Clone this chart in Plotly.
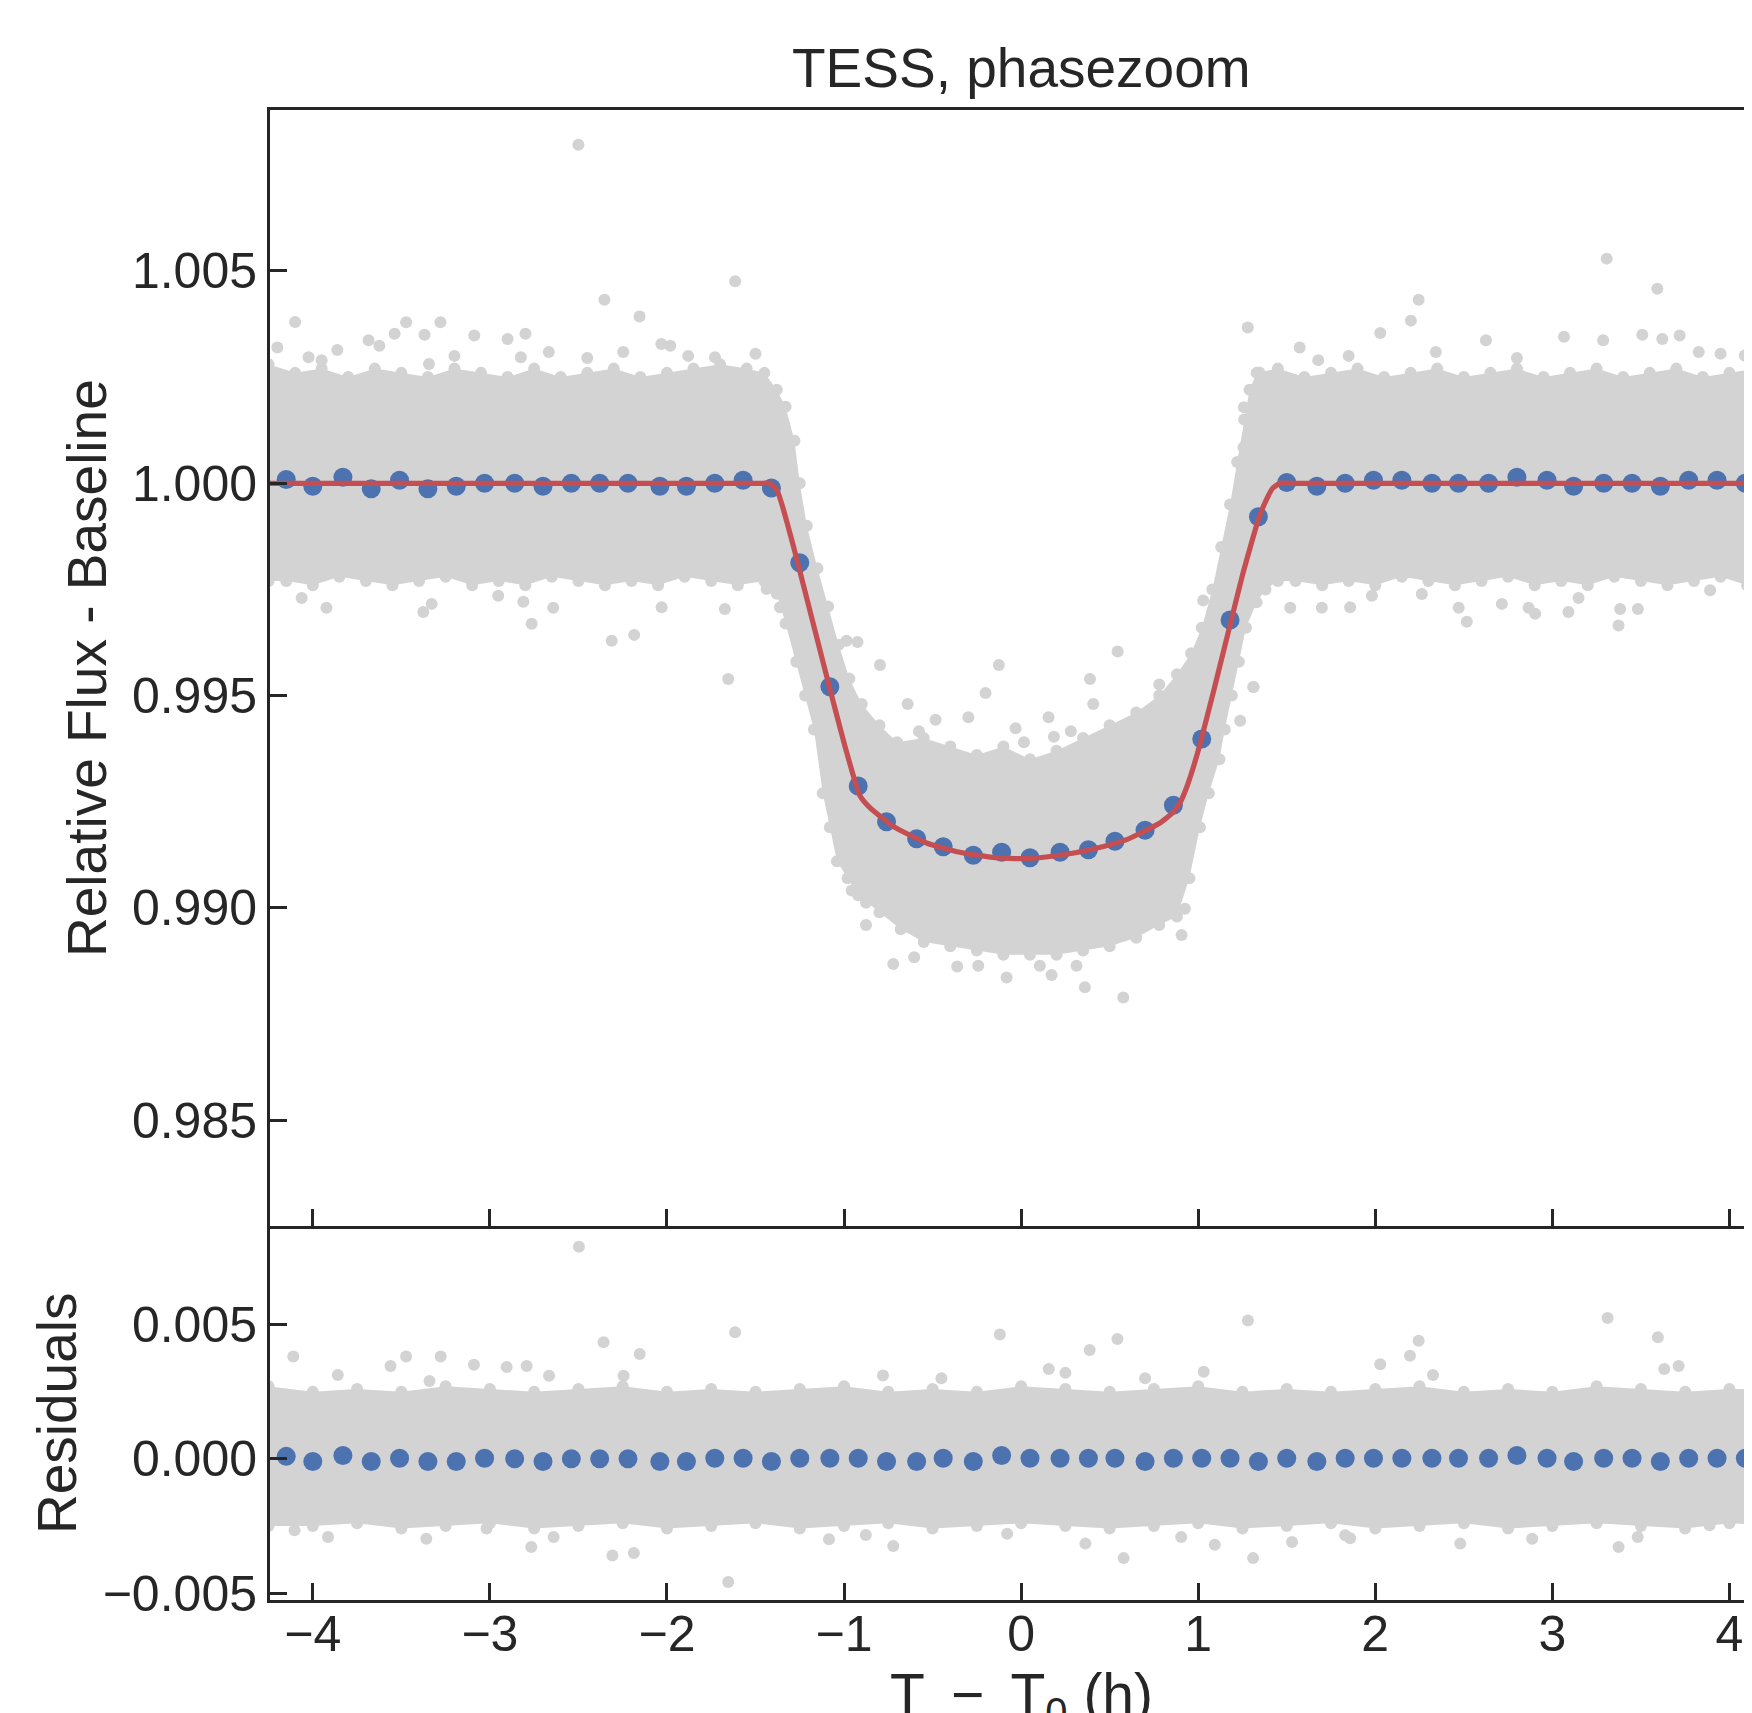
import plotly.graph_objects as go

# ---------------- data ----------------
# binned points (time from mid-transit, hours)
bin_t = [-4.15, -4.00, -3.83, -3.67, -3.51, -3.35, -3.19, -3.03, -2.86, -2.70,
         -2.54, -2.38, -2.22, -2.04, -1.89, -1.73, -1.57, -1.41, -1.25, -1.08,
         -0.92, -0.76, -0.59, -0.44, -0.27, -0.11, 0.05, 0.22, 0.38, 0.53,
         0.70, 0.86, 1.02, 1.18, 1.34, 1.50, 1.67, 1.83, 1.99, 2.15,
         2.32, 2.47, 2.64, 2.80, 2.97, 3.12, 3.29, 3.45, 3.61, 3.77,
         3.93, 4.09]
bin_flux = [1.00009, 0.99993, 1.00014, 0.99987, 1.00007, 0.99987, 0.99993, 1.00000, 1.00000, 0.99993,
            1.00000, 1.00000, 1.00000, 0.99993, 0.99993, 1.00000, 1.00007, 0.99989, 0.99813, 0.99521,
            0.99287, 0.99203, 0.99163, 0.99144, 0.99124, 0.99131, 0.99118, 0.99131, 0.99137, 0.99157,
            0.99183, 0.99242, 0.99398, 0.99678, 0.99921, 1.00002, 0.99993, 1.00000, 1.00007, 1.00007,
            1.00000, 1.00000, 1.00000, 1.00014, 1.00007, 0.99993, 1.00000, 1.00000, 0.99993, 1.00007,
            1.00007, 1.00000]
bin_resid = [0.00009, -0.00010, 0.00012, -0.00010, 0.00002, -0.00010, -0.00010, 0.00002, 0.00000, -0.00010,
             0.00000, 0.00000, 0.00000, -0.00010, -0.00010, 0.00002, 0.00002, -0.00010, 0.00002, 0.00002,
             0.00002, -0.00010, -0.00010, 0.00002, -0.00010, 0.00012, 0.00002, 0.00002, 0.00002, 0.00002,
             -0.00010, 0.00002, 0.00002, 0.00002, -0.00010, 0.00002, -0.00010, 0.00002, 0.00002, 0.00002,
             0.00002, 0.00002, 0.00002, 0.00012, 0.00002, -0.00010, 0.00002, 0.00002, -0.00010, 0.00002,
             0.00002, 0.00002]

# transit model curve
model_t = [-4.25, -3.0, -2.0, -1.46, -1.42, -1.38, -1.34, -1.30, -1.26, -1.165, -1.07, -0.995, -0.95, -0.91,
           -0.854, -0.722, -0.534, -0.346, -0.158, 0.031, 0.219, 0.407, 0.596, 0.784,
           0.86, 0.90, 0.934, 0.991, 1.085, 1.179, 1.254, 1.30, 1.34, 1.38, 1.42, 1.46, 1.52, 2.0, 3.0, 4.25]
model_flux = [1.0, 1.0, 1.0, 1.0, 1.0, 0.99985, 0.99935, 0.99874, 0.99810, 0.99655, 0.99500, 0.99381, 0.99315, 0.99264,
              0.99236, 0.99192, 0.99153, 0.99131, 0.99119, 0.99116, 0.99124, 0.99139, 0.99161, 0.99200,
              0.99226, 0.99250, 0.99283, 0.99357, 0.99507, 0.99665, 0.99790, 0.99858, 0.99915, 0.99957, 0.99988, 1.0, 1.0, 1.0, 1.0, 1.0]

# outline of the dense cloud of unbinned points (upper edge left->right, lower edge right->left)
cloud_up_t = [-4.25, -4.10, -3.95, -3.80, -3.65, -3.50, -3.35, -3.20, -3.05, -2.90,
              -2.75, -2.60, -2.45, -2.30, -2.15, -2.00, -1.85, -1.70, -1.55, -1.45,
              -1.38, -1.33, -1.28, -1.25, -1.21, -1.15, -1.09, -1.03, -0.97, -0.90,
              -0.80, -0.70, -0.55, -0.40, -0.25, -0.10, 0.05, 0.20, 0.35, 0.50,
              0.65, 0.78, 0.88, 0.96, 1.02, 1.08, 1.13, 1.18, 1.22, 1.26,
              1.29, 1.33, 1.45, 1.60, 1.75, 1.90, 2.05, 2.20, 2.35, 2.50,
              2.65, 2.80, 2.95, 3.10, 3.25, 3.40, 3.55, 3.70, 3.85, 4.00,
              4.15, 4.25]
cloud_up_f = [1.0028, 1.0026, 1.0027, 1.0025, 1.0027, 1.0026, 1.0025, 1.0027, 1.0026, 1.0025,
              1.0027, 1.0025, 1.0026, 1.0027, 1.0025, 1.0026, 1.0027, 1.0028, 1.0027, 1.0026,
              1.0022, 1.0018, 1.0010, 1.0000, 0.9990, 0.9980, 0.9971, 0.9962, 0.9954, 0.9948,
              0.9943, 0.9939, 0.9940, 0.9938, 0.9936, 0.9938, 0.9935, 0.9937, 0.9940, 0.9943,
              0.9946, 0.9950, 0.9955, 0.9960, 0.9966, 0.9975, 0.9985, 0.9995, 1.0005, 1.0015,
              1.0022, 1.0026, 1.0027, 1.0025, 1.0026, 1.0027, 1.0025, 1.0026, 1.0027, 1.0025,
              1.0026, 1.0027, 1.0025, 1.0026, 1.0027, 1.0025, 1.0026, 1.0027, 1.0025, 1.0026,
              1.0027, 1.0026]
cloud_lo_t = [4.25, 4.10, 3.95, 3.80, 3.65, 3.50, 3.35, 3.20, 3.05, 2.90,
              2.75, 2.60, 2.45, 2.30, 2.15, 2.00, 1.85, 1.70, 1.55, 1.45,
              1.38, 1.33, 1.27, 1.23, 1.19, 1.15, 1.12, 1.06, 1.01, 0.95,
              0.88, 0.78, 0.65, 0.50, 0.35, 0.20, 0.05, -0.10, -0.25, -0.40,
              -0.55, -0.68, -0.80, -0.92, -0.98, -1.04, -1.08, -1.12, -1.17, -1.22,
              -1.27, -1.33, -1.38, -1.45, -1.60, -1.75, -1.90, -2.05, -2.20, -2.35,
              -2.50, -2.65, -2.80, -2.95, -3.10, -3.25, -3.40, -3.55, -3.70, -3.85,
              -4.00, -4.15, -4.25]
cloud_lo_f = [0.9977, 0.9976, 0.9978, 0.9977, 0.9976, 0.9977, 0.9978, 0.9976, 0.9977, 0.9976,
              0.9978, 0.9977, 0.9976, 0.9977, 0.9978, 0.9976, 0.9977, 0.9976, 0.9977, 0.9977,
              0.9975, 0.9972, 0.9966, 0.9958, 0.9950, 0.9942, 0.9935, 0.9927, 0.9919, 0.9907,
              0.9898, 0.9896, 0.9893, 0.9891, 0.9890, 0.9889, 0.9889, 0.9889, 0.9890, 0.9891,
              0.9892, 0.9895, 0.9899, 0.9903, 0.9907, 0.9911, 0.9919, 0.9927, 0.9942, 0.9950,
              0.9958, 0.9967, 0.9974, 0.9977, 0.9976, 0.9977, 0.9978, 0.9976, 0.9977, 0.9976,
              0.9977, 0.9978, 0.9976, 0.9977, 0.9976, 0.9978, 0.9977, 0.9976, 0.9977, 0.9978,
              0.9976, 0.9977, 0.9977]

# individually visible unbinned points outside the dense cloud (flux panel)
flux_pts_t = [-4.10, -3.862, -3.538, -3.473, -3.279, -3.088, -2.900, -2.799, -2.667, -2.500,
              -2.353, -2.155, -2.032, -2.247, -3.344, -4.024, -3.624, -2.825, -1.615, -3.369,
              -3.685, -1.981, -1.729, -4.20, -3.95, -3.20, -2.45, -1.88, -1.50,
              1.280, 2.245, 2.201, 2.028, 2.342, 3.307, 3.593, 3.621, 3.719, 3.827,
              4.087, 1.345, 1.573, 1.258, 3.066, 2.625, 3.287, 3.508, 1.678, 1.85, 2.80, 3.95,
              -4.063, -3.923, -3.376, -3.329, -2.953, -2.811, -2.764, -2.642, -2.312, -2.185,
              -2.030, -1.673, -1.654,
              1.520, 1.698, 1.858, 1.981, 2.263, 2.471, 2.517, 2.715, 2.866, 2.903,
              3.091, 3.148, 3.374, 3.383, 3.483, 3.891, 1.313, 1.237, 1.256,
              -0.797, -0.641, -0.577, -0.483, -0.298, -0.201, -0.126, -0.031, 0.016, 0.155,
              0.185, 0.281, 0.389, 0.407, 0.545, 0.780, 0.878, 1.311, 1.028, -0.924,
              -0.986, -1.362, -1.437,
              -0.722, -0.876, -0.876, -0.957, -0.604, -0.361, -0.082, 0.172, 0.360, 0.577,
              0.906, 0.925, -0.242, 0.106, 0.313, -1.061]
flux_pts_f = [1.00380, 1.00314, 1.00352, 1.00379, 1.00379, 1.00348, 1.00340, 1.00352, 1.00309, 1.00797,
              1.00432, 1.00393, 1.00328, 1.00309, 1.00281, 1.00297, 1.00324, 1.00297, 1.00476, 1.00350,
              1.00337, 1.00324, 1.00297, 1.00320, 1.00290, 1.00300, 1.00295, 1.00300, 1.00305,
              1.00367, 1.00432, 1.00383, 1.00354, 1.00309, 1.00529, 1.00458, 1.00340, 1.00348, 1.00309,
              1.00301, 1.00261, 1.00320, 1.00179, 1.00345, 1.00337, 1.00337, 1.00350, 1.00290, 1.00300, 1.00295, 1.00305,
              0.99730, 0.99707, 0.99697, 0.99716, 0.99735, 0.99721, 0.99669, 0.99707, 0.99629, 0.99643,
              0.99708, 0.99704, 0.99539,
              0.99707, 0.99707, 0.99708, 0.99735, 0.99739, 0.99707, 0.99674, 0.99716, 0.99707, 0.99693,
              0.99697, 0.99730, 0.99665, 0.99704, 0.99704, 0.99748, 0.99520, 0.99441, 1.00084,
              0.99572, 0.99480, 0.99416, 0.99443, 0.99449, 0.99506, 0.99572, 0.99423, 0.99390, 0.99449,
              0.99403, 0.99416, 0.99539, 0.99480, 0.99604, 0.99526, 0.99500, 0.99520, 0.99724, 0.99626,
              0.99629, 0.99708, 0.99751,
              0.98868, 0.98960, 0.99012, 0.99041, 0.98884, 0.98862, 0.98836, 0.98842, 0.98813, 0.98789,
              0.98936, 0.98998, 0.98864, 0.98864, 0.98864, 0.99190]

# residual panel: dense band outline and visible outliers
res_up_t = [-4.25, -4.00, -3.75, -3.50, -3.25, -3.00, -2.75, -2.50, -2.25, -2.00,
            -1.75, -1.50, -1.25, -1.00, -0.75, -0.50, -0.25, 0.00, 0.25, 0.50,
            0.75, 1.00, 1.25, 1.50, 1.75, 2.00, 2.25, 2.50, 2.75, 3.00,
            3.25, 3.50, 3.75, 4.00, 4.25]
res_up = [0.0027, 0.0025, 0.0026, 0.0025, 0.0027, 0.0026, 0.0025, 0.0026, 0.0027, 0.0025,
          0.0026, 0.0025, 0.0026, 0.0027, 0.0025, 0.0026, 0.0025, 0.0027, 0.0026, 0.0025,
          0.0026, 0.0027, 0.0025, 0.0026, 0.0025, 0.0026, 0.0027, 0.0025, 0.0026, 0.0025,
          0.0027, 0.0026, 0.0025, 0.0026, 0.0026]
res_lo_t = [4.25, 4.00, 3.75, 3.50, 3.25, 3.00, 2.75, 2.50, 2.25, 2.00,
            1.75, 1.50, 1.25, 1.00, 0.75, 0.50, 0.25, 0.00, -0.25, -0.50,
            -0.75, -1.00, -1.25, -1.50, -1.75, -2.00, -2.25, -2.50, -2.75, -3.00,
            -3.25, -3.50, -3.75, -4.00, -4.25]
res_lo = [-0.0025, -0.0024, -0.0026, -0.0025, -0.0024, -0.0025, -0.0026, -0.0024, -0.0025, -0.0026,
          -0.0024, -0.0025, -0.0026, -0.0024, -0.0025, -0.0026, -0.0025, -0.0024, -0.0025, -0.0026,
          -0.0024, -0.0025, -0.0026, -0.0024, -0.0025, -0.0026, -0.0024, -0.0025, -0.0026, -0.0024,
          -0.0025, -0.0026, -0.0024, -0.0025, -0.0025]
res_pts_t = [-2.497, -4.110, -2.358, -2.154, -3.473, -3.278, -3.090, -2.905, -2.792, -3.859,
             -3.561, -3.341, -2.666, -2.245, -1.615, -0.120, 1.281, 3.312, 3.596, 0.544,
             0.387, 2.245, 2.196, 2.028, 3.713, 3.632, 0.156, 1.031, 2.326, -0.78,
             -0.45, 0.25, 0.70,
             -2.766, -2.308, -2.187, -3.359, -3.914, -4.103, -2.640, -3.019, 0.579, 1.310,
             0.363, -0.079, 1.094, 0.904, 2.480, 3.374, 3.482, 3.888, 1.830, 2.886,
             -0.722, -0.877, -1.085, 1.53, 1.858, -1.654]
res_pts_r = [0.00790, 0.00381, 0.00434, 0.00390, 0.00381, 0.00381, 0.00350, 0.00342, 0.00346, 0.00312,
             0.00346, 0.00290, 0.00309, 0.00309, 0.00471, 0.00463, 0.00515, 0.00524, 0.00453, 0.00446,
             0.00405, 0.00440, 0.00384, 0.00352, 0.00346, 0.00334, 0.00334, 0.00324, 0.00312, 0.00310,
             0.00300, 0.00320, 0.00300,
             -0.00329, -0.00360, -0.00351, -0.00298, -0.00291, -0.00266, -0.00291, -0.00260, -0.00370, -0.00370,
             -0.00316, -0.00279, -0.00320, -0.00291, -0.00316, -0.00329, -0.00291, -0.00248, -0.00285, -0.00298,
             -0.00325, -0.00284, -0.00300, -0.00310, -0.00296, -0.00459]

x_ticks = [-4, -3, -2, -1, 0, 1, 2, 3, 4]
flux_ticks = [0.985, 0.990, 0.995, 1.000, 1.005]
res_ticks = [-0.005, 0.000, 0.005]

# ---------------- styling ----------------
GRAY = "#D3D3D3"
BLUE = "#4C72B0"
RED = "#C44E52"
INK = "#262626"
FONT = "Liberation Sans, Arial, Helvetica, sans-serif"

fig = go.Figure()

# top panel
fig.add_trace(go.Scatter(x=cloud_up_t + cloud_lo_t, y=cloud_up_f + cloud_lo_f,
                         mode="lines+markers", fill="toself", fillcolor=GRAY,
                         line=dict(width=0, color=GRAY), marker=dict(size=12, color=GRAY),
                         xaxis="x2", yaxis="y2", hoverinfo="skip", showlegend=False))
fig.add_trace(go.Scatter(x=flux_pts_t, y=flux_pts_f, mode="markers",
                         marker=dict(size=12, color=GRAY),
                         xaxis="x2", yaxis="y2", hoverinfo="skip", showlegend=False))
fig.add_trace(go.Scatter(x=bin_t, y=bin_flux, mode="markers",
                         marker=dict(size=19, color=BLUE),
                         xaxis="x2", yaxis="y2", showlegend=False))
fig.add_trace(go.Scatter(x=model_t, y=model_flux, mode="lines",
                         line=dict(color=RED, width=5.2, shape="spline", smoothing=0.5),
                         xaxis="x2", yaxis="y2", showlegend=False))

# bottom panel
fig.add_trace(go.Scatter(x=res_up_t + res_lo_t, y=res_up + res_lo,
                         mode="lines+markers", fill="toself", fillcolor=GRAY,
                         line=dict(width=0, color=GRAY), marker=dict(size=12, color=GRAY),
                         xaxis="x", yaxis="y", hoverinfo="skip", showlegend=False))
fig.add_trace(go.Scatter(x=res_pts_t, y=res_pts_r, mode="markers",
                         marker=dict(size=12, color=GRAY),
                         xaxis="x", yaxis="y", hoverinfo="skip", showlegend=False))
fig.add_trace(go.Scatter(x=bin_t, y=bin_resid, mode="markers",
                         marker=dict(size=19, color=BLUE),
                         xaxis="x", yaxis="y", showlegend=False))

XR = [-4.2417, 4.1275]
SPLIT = 0.2510
axis_common = dict(showgrid=False, zeroline=False, showline=True, linecolor=INK, linewidth=3,
                   ticks="inside", ticklen=17, tickwidth=3, tickcolor=INK, automargin=False,
                   tickfont=dict(size=50, color=INK, family=FONT))

# the page body adds an 8 px offset, so the figure is 8 px smaller and margins shifted
fig.update_layout(
    width=1744, height=1705,
    margin=dict(l=262, r=0, t=102, b=113, pad=0),
    paper_bgcolor="white", plot_bgcolor="white",
    font=dict(family=FONT, color=INK),
    xaxis=dict(domain=[0, 1], anchor="y", range=XR, tickvals=x_ticks,
               ticklabelstandoff=-12, **axis_common),
    yaxis=dict(domain=[0, SPLIT], anchor="x", range=[-0.00526, 0.00867],
               tickvals=res_ticks, tickformat=".3f", **axis_common),
    xaxis2=dict(domain=[0, 1], anchor="y2", range=XR, matches="x", tickvals=x_ticks,
                showticklabels=False, mirror=True, **axis_common),
    yaxis2=dict(domain=[SPLIT, 1], anchor="x2", range=[0.98251, 1.00879],
                tickvals=flux_ticks, tickformat=".3f", **axis_common),
    annotations=[
        dict(text="TESS, phasezoom", xref="paper", yref="paper", x=0.5069, y=1.0282,
             xanchor="center", yanchor="middle", showarrow=False,
             font=dict(size=55, color=INK, family=FONT)),
        dict(text="Relative Flux - Baseline", xref="paper", yref="paper", x=-0.1235,
             y=SPLIT + (1 - SPLIT) / 2, textangle=-90, xanchor="center", yanchor="middle",
             showarrow=False, font=dict(size=55, color=INK, family=FONT)),
        dict(text="Residuals", xref="paper", yref="paper", x=-0.1437, y=SPLIT / 2,
             textangle=-90, xanchor="center", yanchor="middle", showarrow=False,
             font=dict(size=55, color=INK, family=FONT)),
        dict(text="T \u2009\u2212\u2009 T<sub>0</sub> (h)", xref="paper", yref="paper", x=0.5069, y=-0.0655,
             xanchor="center", yanchor="middle", showarrow=False,
             font=dict(size=57, color=INK, family=FONT)),
    ],
)

fig.write_html("out.html")
